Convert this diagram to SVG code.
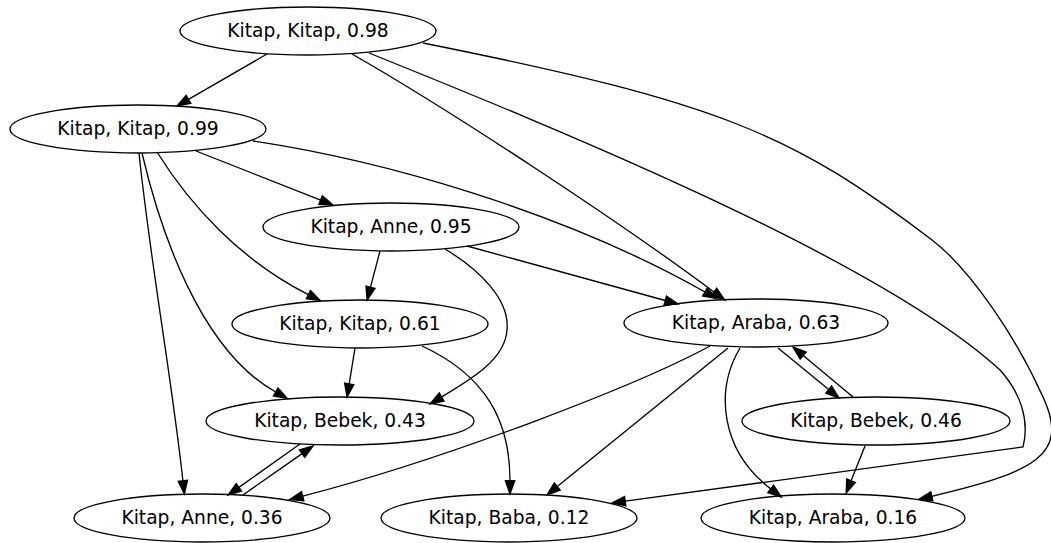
<svg xmlns="http://www.w3.org/2000/svg" width="1051" height="543" viewBox="0 0 1051 543">
<style>
.node ellipse{fill:none;stroke:#000;stroke-width:1.33}
.node text{font-family:"DejaVu Sans","Liberation Sans",sans-serif;font-size:18.67px;text-anchor:middle;fill:#000}
.edges path{fill:none;stroke:#000;stroke-width:1.33;marker-end:url(#arr)}
</style>
<defs>
<marker id="arr" markerUnits="userSpaceOnUse" viewBox="0 0 13.33 9.33" refX="0" refY="4.67" markerWidth="13.33" markerHeight="9.33" orient="auto" overflow="visible">
<path d="M0,0 L13.33,4.67 L0,9.33 Z" fill="#000" stroke="#000" stroke-width="1.33"/>
</marker>
</defs>
<rect width="1051" height="543" fill="#fff"/>
<g class="edges" id="edges">
<path d="M267,54 L188.5,99.4"/>
<path d="M352,54 C450,110 620,222 714,292"/>
<path d="M369,53 C560,130 880,260 1000,370 C1020,392 1030,420 1023,447 L625.2,501.2"/>
<path d="M423,43 C723,103 792,134 932,240 C972,270.5 1018,341 1043,397 C1070,455 1035,472 931.8,496.3"/>
<path d="M196,151 L320.6,200.1"/>
<path d="M253,141 C380,160 560,210 705,292"/>
<path d="M157,152 C190,205 240,260 308.4,294.6"/>
<path d="M142,153 C160,230 200,350 275.7,392"/>
<path d="M139,153 C150,260 172,380 182.9,480.7"/>
<path d="M380,251 L370.5,287.2"/>
<path d="M467,246 L665.2,300.5"/>
<path d="M445,249 C480,270 510,300 507,330 C505,360 470,380 441.6,397"/>
<path d="M355,348 L349.2,383.9"/>
<path d="M422,346 C485,375 510,420 510,480.7"/>
<path d="M778,348 L828.7,389.6"/>
<path d="M853,397 L803.2,355.5"/>
<path d="M710,346 C640,384 450,458 302.7,496.2"/>
<path d="M728,348 L557.3,486.6"/>
<path d="M740,348 C715,390 720,450 770.7,488.9"/>
<path d="M865,446 L851.1,480.7"/>
<path d="M300,444 L238.9,487.4"/>
<path d="M243,495 L302.1,453.6"/>
</g>
<g class="node" id="n098"><ellipse cx="308" cy="31" rx="128" ry="24"/><text x="308" y="37">Kitap, Kitap, 0.98</text></g>
<g class="node" id="n099"><ellipse cx="138" cy="129" rx="128" ry="24"/><text x="138" y="135">Kitap, Kitap, 0.99</text></g>
<g class="node" id="n095"><ellipse cx="391" cy="227" rx="128" ry="24"/><text x="391" y="233">Kitap, Anne, 0.95</text></g>
<g class="node" id="n061"><ellipse cx="360" cy="324" rx="128" ry="24"/><text x="360" y="330">Kitap, Kitap, 0.61</text></g>
<g class="node" id="n063"><ellipse cx="756" cy="323" rx="132" ry="24"/><text x="756" y="329">Kitap, Araba, 0.63</text></g>
<g class="node" id="n043"><ellipse cx="340" cy="421" rx="134" ry="24"/><text x="340" y="427">Kitap, Bebek, 0.43</text></g>
<g class="node" id="n046"><ellipse cx="876" cy="421" rx="134" ry="24"/><text x="876" y="427">Kitap, Bebek, 0.46</text></g>
<g class="node" id="n036"><ellipse cx="202" cy="518" rx="128" ry="24"/><text x="202" y="524">Kitap, Anne, 0.36</text></g>
<g class="node" id="n012"><ellipse cx="509" cy="518" rx="128" ry="24"/><text x="509" y="524">Kitap, Baba, 0.12</text></g>
<g class="node" id="n016"><ellipse cx="833" cy="518" rx="132" ry="24"/><text x="833" y="524">Kitap, Araba, 0.16</text></g>
</svg>
